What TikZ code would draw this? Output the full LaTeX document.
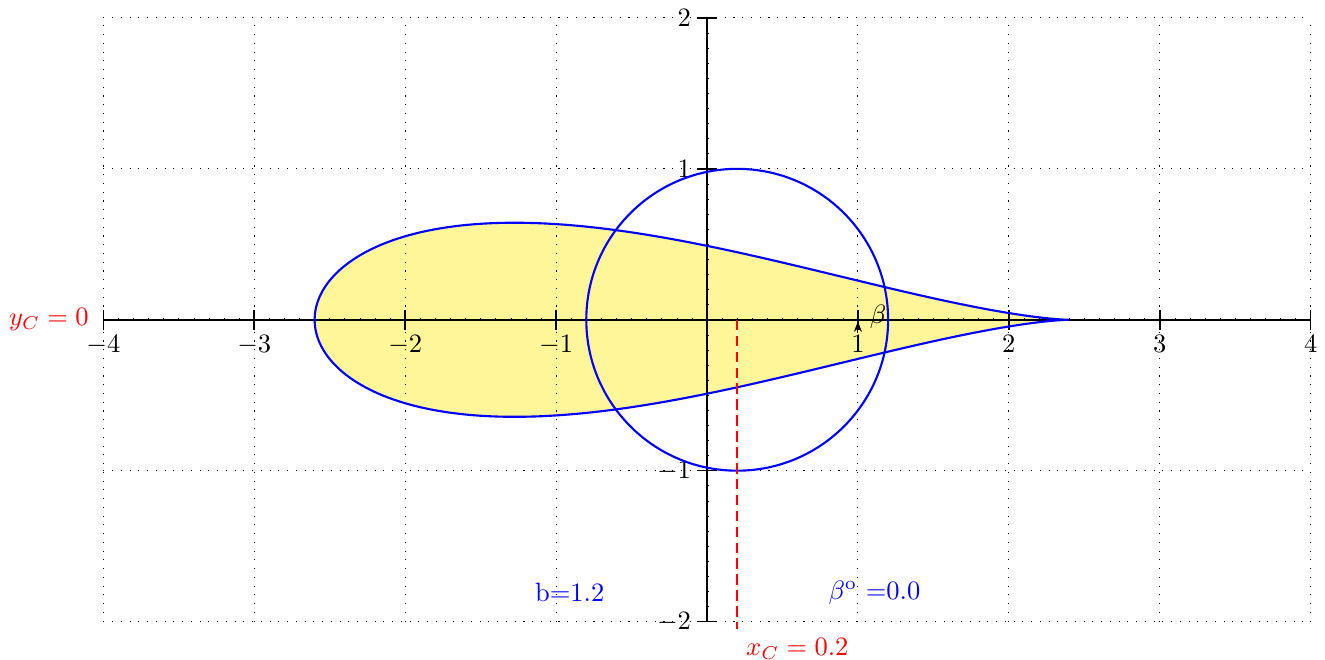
\documentclass[tikz,border=0pt]{standalone}
\usepackage{amsmath}
\usepackage{tikz}
\usetikzlibrary{arrows.meta,positioning,calc}
\definecolor{foilyellow}{HTML}{FFF69A}

\begin{document}
\begin{tikzpicture}[
    x=2cm, y=2cm,
    every node/.style={font=\normalsize},
    gridline/.style={black, line width=0.4pt, dash pattern=on 0.4pt off 2.9pt},
    axisline/.style={black, semithick},
    minortick/.style={black, line width=0.25pt},
    foil/.style={blue, thick},
    circ/.style={blue, thick},
    centreline/.style={red, thick, dash pattern=on 4pt off 2pt},
    arrow/.style={-{Stealth[length=4pt, width=3pt]}, thin, black}
]
    \useasboundingbox (-4.685,-2.252) rectangle (4.095,2.119);

    % airfoil from the circle
    \fill[foilyellow] plot[domain=0:360, samples=361, variable=\t]
        ({(0.2+cos(\t))*(1+1.44/(1.04+0.4*cos(\t)))}, {sin(\t)*(1-1.44/(1.04+0.4*cos(\t)))}) -- cycle;

    \draw[gridline, step=1] (-4,-2) grid (4,2);

    % axes
    \draw[axisline] (-4,0) -- (4,0);
    \draw[axisline] (0,-2) -- (0,2);
    \foreach \m in {-40,...,40} \draw[minortick] (\m/10,-0.01) -- (\m/10,0.01);
    \foreach \m in {-20,...,20} \draw[minortick] (-0.01,\m/10) -- (0.01,\m/10);
    \foreach \x in {-4,-3,-2,-1,1,2,3,4}
        \draw[axisline] (\x,-0.066) -- (\x,0.066) node[pos=0, below, inner sep=2pt] {$\x$};
    \foreach \y in {-2,-1,1,2}
        \draw[axisline] (-0.066,\y) -- (0.066,\y) node[pos=0, left, inner sep=2pt] {$\y$};

    \draw[foil] plot[domain=0:360, samples=361, variable=\t]
        ({(0.2+cos(\t))*(1+1.44/(1.04+0.4*cos(\t)))}, {sin(\t)*(1-1.44/(1.04+0.4*cos(\t)))}) -- cycle;

    \coordinate (C) at (0.2,0);
    \coordinate (xC) at (0.2,-2.05);
    \draw[circ] (C) circle[radius=1];

    \draw[yellow!20, thick] (C) -- (xC);
    \draw[centreline] (C) -- (xC) node[below right, inner sep=3pt] {$x_C = 0.2$};
    \node[red, left, xshift=-2pt] (yC) at (-4,0) {$y_C = 0$};

    \coordinate (betatip) at (1,-0.01);
    \draw[arrow] ($(betatip)+(0,-0.07)$) -- (betatip);
    \node[right, xshift=1pt] (beta) at (1,0.02) {$\beta$};

    \node[blue] (blab) at (-0.91,-1.81) {b=1.2};
    \node[blue] (betalab) at (1.11,-1.81) {$\beta^{\mathrm{o}}$ =0.0};
\end{tikzpicture}
\end{document}
